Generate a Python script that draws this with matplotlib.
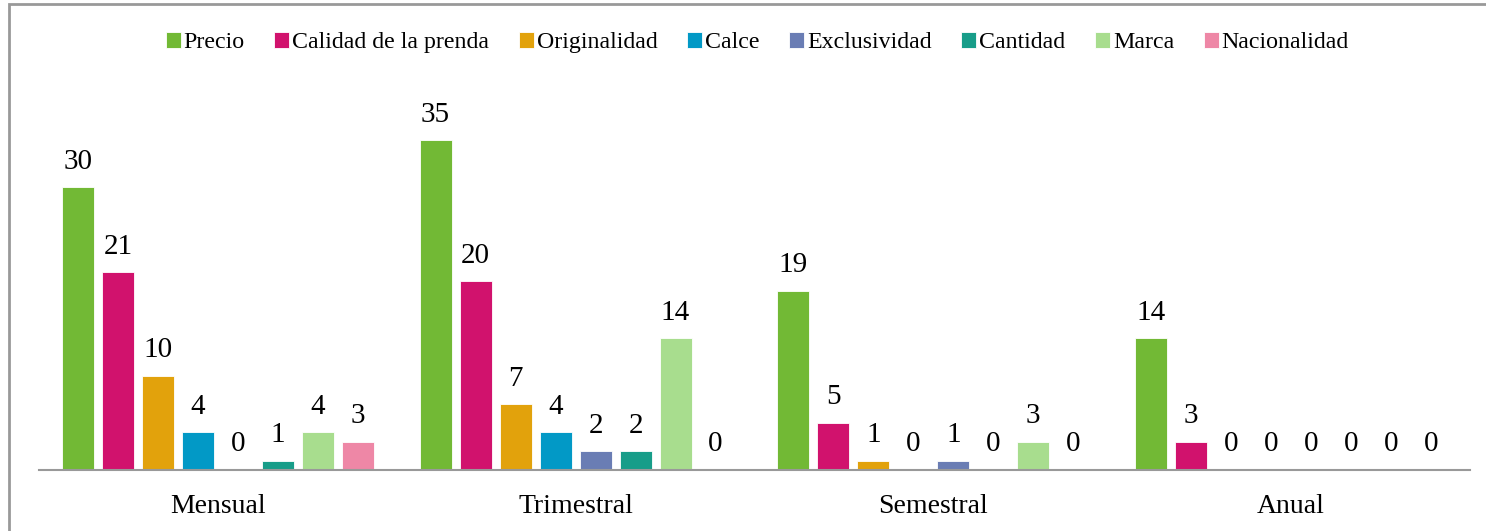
import matplotlib
import matplotlib.pyplot as plt
import numpy as np
from matplotlib.patches import Rectangle

matplotlib.use("Agg")

periods = ["Mensual", "Trimestral", "Semestral", "Anual"]
factors = ["Precio", "Calidad de la prenda", "Originalidad", "Calce",
           "Exclusividad", "Cantidad", "Marca", "Nacionalidad"]
counts = {
    "Precio": [30, 35, 19, 14],
    "Calidad de la prenda": [21, 20, 5, 3],
    "Originalidad": [10, 7, 1, 0],
    "Calce": [4, 4, 0, 0],
    "Exclusividad": [0, 2, 1, 0],
    "Cantidad": [1, 2, 0, 0],
    "Marca": [4, 14, 3, 0],
    "Nacionalidad": [3, 0, 0, 0],
}
colors = ["#72B935", "#D1126D", "#E2A20C", "#0299C6",
          "#6A7DB4", "#179D89", "#A8DD8E", "#EE87A6"]

plt.rcParams["font.family"] = ["Liberation Serif", "DejaVu Serif"]

fig = plt.figure(figsize=(14.86, 5.31), dpi=100)
ax = fig.add_axes([0.0262, 0.1149, 0.9630, 0.71])

x = np.arange(len(periods))
step = 0.1118
width = 0.0894
for k, (name, col) in enumerate(zip(factors, colors)):
    pos = x + (k - 3.5) * step
    vals = counts[name]
    bars = ax.bar(pos, vals, width=width, color=col, edgecolor="white",
                  linewidth=0.6, label=name)
    for b, v in zip(bars, vals):
        ax.annotate(str(v), (b.get_x() + b.get_width() / 2, v),
                    xytext=(0, 9), textcoords="offset points",
                    ha="center", va="bottom", fontsize=21)

ax.set_xlim(-0.5, len(periods) - 0.5)
ax.set_ylim(0, 40)
ax.set_yticks([])
ax.set_xticks(x)
ax.set_xticklabels(periods, fontsize=20)
ax.tick_params(axis="x", length=0, pad=17)
for side in ["top", "right", "left"]:
    ax.spines[side].set_visible(False)
ax.spines["bottom"].set_color("#999999")
ax.spines["bottom"].set_linewidth(1.5)

ax.legend(loc="center", bbox_to_anchor=(0.502, 1.133), ncol=8,
          frameon=False, fontsize=17.2, handlelength=0.62, handleheight=0.62,
          handletextpad=0.12, columnspacing=1.25)

# outer frame around the chart
fig.patches.append(Rectangle((9 / 1486, -0.1), 1.2, 1 - 4 / 531 + 0.1,
                             transform=fig.transFigure, fill=False,
                             edgecolor="#999999", linewidth=2))

fig.savefig("out.png", dpi=100)
